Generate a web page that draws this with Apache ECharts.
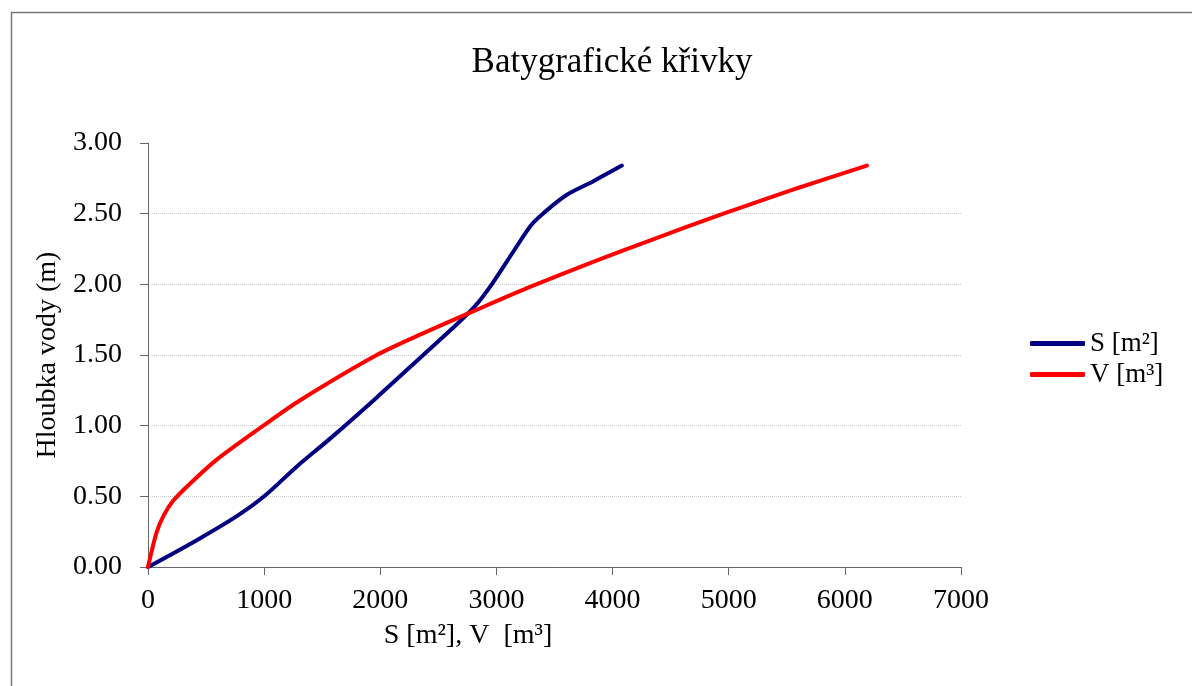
<!DOCTYPE html>
<html>
<head>
<meta charset="utf-8">
<script src="https://cdn.jsdelivr.net/npm/echarts@6/dist/echarts.min.js"></script>
<style>html,body{margin:0;padding:0;background:#fff}#c{width:1192px;height:686px}</style>
</head>
<body>
<div id="c"></div>
<script>
const titleText = 'Batygrafické křivky';
const xAxisTitle = 'S [m²], V  [m³]';
const yAxisTitle = 'Hloubka vody (m)';
const seriesNames = ['S [m²]', 'V [m³]'];
// S curve: area vs depth
const sArea  = [0, 420, 765, 1000, 1280, 1570, 1970, 2370, 2610, 2810, 2960, 3160, 3300, 3400, 3600, 3835, 4080];
const sDepth = [0, 0.19, 0.36, 0.50, 0.71, 0.91, 1.20, 1.50, 1.68, 1.84, 2.00, 2.25, 2.42, 2.50, 2.63, 2.73, 2.84];
// V curve: volume vs depth
const vVolume = [0, 72, 132, 218, 362, 592, 993, 1310, 1970, 2400, 2830, 3300, 3900, 4320, 4955, 5590, 6190];
const vDepth  = [0, 0.24, 0.36, 0.47, 0.59, 0.76, 1.00, 1.18, 1.50, 1.665, 1.82, 1.985, 2.18, 2.31, 2.50, 2.68, 2.84];
const xTicks = {min: 0, max: 7000, interval: 1000};
const yTicks = {min: 0, max: 3, interval: 0.5};

const font = 'Liberation Serif';
const chart = echarts.init(document.getElementById('c'));
const zip = (a, b) => a.map((v, i) => [v, b[i]]);
chart.setOption({
  animation: false,
  backgroundColor: '#fff',
  title: {
    text: titleText, left: 607, top: 40, textAlign: 'center',
    textStyle: {fontFamily: font, fontSize: 35, fontWeight: 'normal', color: '#000'}
  },
  graphic: [
    {type: 'rect', shape: {x: 11.5, y: 12.5, width: 1300, height: 800}, style: {fill: 'none', stroke: '#777', lineWidth: 1.5}, silent: true},
    {type: 'text', x: 468, y: 636, style: {text: xAxisTitle, font: '28px "Liberation Serif"', fill: '#000', textAlign: 'center', textVerticalAlign: 'middle'}}
  ],
  legend: {
    orient: 'vertical', left: 1025, top: 325,
    itemWidth: 55, itemHeight: 5, itemGap: 4, icon: 'roundRect',
    textStyle: {fontFamily: font, fontSize: 27, color: '#000'},
    data: seriesNames
  },
  grid: {left: 148, right: 231, top: 143, bottom: 119, containLabel: false},
  xAxis: {
    type: 'value', min: xTicks.min, max: xTicks.max, interval: xTicks.interval,
    axisLine: {lineStyle: {color: '#666', width: 1}},
    axisTick: {show: true, length: 8, lineStyle: {color: '#666'}},
    axisLabel: {fontFamily: font, fontSize: 28, color: '#000', margin: 20, formatter: v => String(v)},
    splitLine: {show: false}
  },
  yAxis: {
    type: 'value', min: yTicks.min, max: yTicks.max, interval: yTicks.interval,
    name: yAxisTitle, nameLocation: 'middle', nameGap: 80, nameRotate: 90,
    nameTextStyle: {fontFamily: font, fontSize: 28, color: '#000'},
    axisLine: {show: true, lineStyle: {color: '#666', width: 1}},
    axisTick: {show: true, length: 8, lineStyle: {color: '#666'}},
    axisLabel: {fontFamily: font, fontSize: 28, color: '#000', margin: 26, formatter: v => v.toFixed(2)},
    splitLine: {show: true, lineStyle: {type: 'dotted', width: 1, color: ['#c8c8c8','#c8c8c8','#c8c8c8','#c8c8c8','#c8c8c8','#c8c8c8','rgba(0,0,0,0)']}}
  },
  series: [
    {name: seriesNames[0], type: 'line', data: zip(sArea, sDepth), smooth: 0.3, showSymbol: false, symbol: 'none',
     lineStyle: {color: '#000080', width: 4, cap: 'round'}, itemStyle: {color: '#000080'}},
    {name: seriesNames[1], type: 'line', data: zip(vVolume, vDepth), smooth: 0.3, showSymbol: false, symbol: 'none',
     lineStyle: {color: '#ff0000', width: 4, cap: 'round'}, itemStyle: {color: '#ff0000'}}
  ]
});
</script>
</body>
</html>
